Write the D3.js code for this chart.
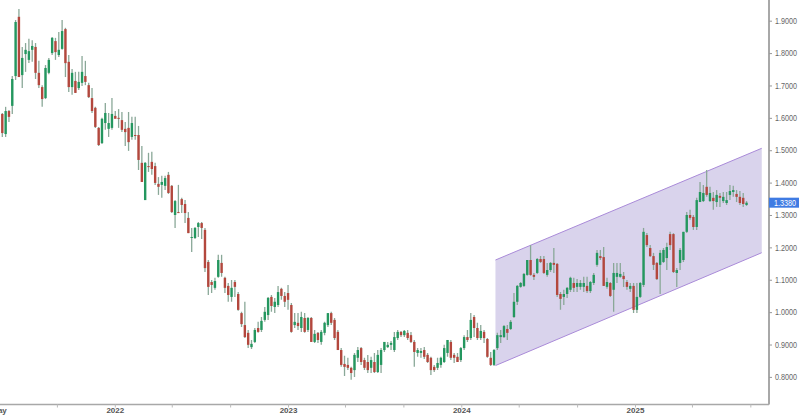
<!DOCTYPE html>
<html><head><meta charset="utf-8">
<script src="https://cdn.jsdelivr.net/npm/d3@7"></script>
<style>body{margin:0;background:#fff}svg{display:block;font-family:"Liberation Sans",Arial,sans-serif}</style>
</head><body>
<svg id="c" width="800" height="416"></svg>
<script>
// weekly candles, first week
const startDate = "2021-05-09";
const open = [
1.612,1.550,1.621,1.637,1.729,1.912,1.732,1.797,1.779,1.810,
1.819,1.739,1.695,1.661,1.739,1.800,1.837,1.794,1.813,1.874,
1.773,1.695,1.714,1.692,1.708,1.729,1.701,1.661,1.631,1.569,
1.522,1.584,1.566,1.569,1.606,1.600,1.593,1.566,1.569,1.541,
1.547,1.547,1.461,1.346,1.451,1.464,1.451,1.396,1.393,1.390,
1.424,1.390,1.300,1.309,1.349,1.334,1.291,1.229,1.229,1.263,
1.275,1.254,1.155,1.093,1.075,1.109,1.152,1.106,1.081,1.047,
1.093,1.056,0.997,0.960,0.936,0.892,0.908,0.951,0.945,0.976,
0.991,1.047,1.016,1.022,1.072,1.050,1.059,1.022,0.960,0.967,
0.951,0.982,0.945,0.982,0.908,0.936,0.908,0.936,0.960,0.997,
0.976,0.939,0.883,0.840,0.837,0.828,0.821,0.859,0.889,0.852,
0.846,0.828,0.846,0.815,0.837,0.883,0.892,0.899,0.883,0.920,
0.939,0.929,0.936,0.929,0.908,0.874,0.874,0.883,0.868,0.859,
0.831,0.828,0.837,0.846,0.874,0.908,0.868,0.862,0.852,0.889,
0.923,0.920,0.985,0.951,0.920,0.939,0.917,0.859,0.837,0.889,
0.923,0.923,0.948,0.948,0.985,1.032,1.078,1.081,1.115,1.161,
1.115,1.121,1.164,1.164,1.115,1.130,1.152,1.149,1.056,1.047,
1.056,1.069,1.090,1.078,1.078,1.078,1.081,1.065,1.090,1.146,
1.173,1.170,1.078,1.090,1.069,1.109,1.109,1.112,1.093,1.072,
1.081,1.007,1.047,1.084,1.238,1.198,1.173,1.152,1.146,1.155,
1.167,1.241,1.241,1.121,1.152,1.161,1.248,1.300,1.294,1.263,
1.340,1.343,1.387,1.343,1.353,1.340,1.359,1.343,1.337,1.362,
1.371,1.365,1.356,1.353,1.331];
const high = [
1.615,1.634,1.624,1.729,1.902,1.936,1.819,1.831,1.844,1.840,
1.831,1.776,1.701,1.763,1.785,1.850,1.847,1.865,1.902,1.878,
1.794,1.751,1.742,1.742,1.791,1.776,1.708,1.692,1.634,1.572,
1.600,1.646,1.615,1.661,1.621,1.627,1.618,1.587,1.618,1.603,
1.603,1.575,1.513,1.464,1.492,1.495,1.461,1.417,1.421,1.421,
1.433,1.393,1.346,1.393,1.353,1.346,1.309,1.260,1.263,1.278,
1.278,1.260,1.161,1.099,1.106,1.177,1.177,1.109,1.090,1.099,
1.099,1.062,1.001,1.032,0.945,0.914,0.951,0.970,0.985,1.016,
1.047,1.053,1.044,1.081,1.075,1.062,1.084,1.028,0.997,0.997,
1.001,0.997,0.985,0.985,0.945,0.939,0.945,0.970,0.997,1.001,
0.982,0.945,0.889,0.865,0.859,0.831,0.874,0.892,0.892,0.859,
0.868,0.862,0.874,0.883,0.889,0.908,0.908,0.911,0.939,0.945,
0.942,0.945,0.945,0.939,0.914,0.889,0.889,0.892,0.874,0.862,
0.837,0.859,0.862,0.899,0.914,0.914,0.874,0.874,0.892,0.929,
0.945,0.997,0.991,0.967,0.960,0.945,0.920,0.877,0.886,0.936,
0.945,0.960,0.960,0.976,1.059,1.084,1.093,1.121,1.161,1.207,
1.121,1.167,1.173,1.173,1.152,1.155,1.198,1.152,1.062,1.069,
1.078,1.109,1.106,1.102,1.099,1.109,1.109,1.096,1.121,1.192,
1.192,1.201,1.106,1.093,1.152,1.152,1.152,1.124,1.099,1.090,
1.090,1.090,1.093,1.260,1.244,1.207,1.183,1.155,1.192,1.198,
1.214,1.248,1.244,1.136,1.198,1.248,1.309,1.316,1.300,1.353,
1.402,1.393,1.439,1.387,1.371,1.377,1.368,1.371,1.371,1.393,
1.390,1.377,1.374,1.368,1.343];
const low = [
1.541,1.541,1.587,1.612,1.717,1.726,1.692,1.742,1.769,1.773,
1.720,1.692,1.634,1.658,1.735,1.794,1.779,1.788,1.810,1.726,
1.680,1.671,1.677,1.686,1.698,1.701,1.661,1.615,1.569,1.513,
1.519,1.563,1.541,1.563,1.600,1.569,1.556,1.513,1.498,1.532,
1.532,1.439,1.402,1.346,1.433,1.424,1.393,1.362,1.353,1.377,
1.365,1.306,1.260,1.306,1.306,1.275,1.244,1.186,1.226,1.232,
1.226,1.124,1.053,1.059,1.069,1.106,1.109,1.059,1.032,1.032,
1.047,1.004,0.954,0.920,0.889,0.886,0.905,0.936,0.939,0.970,
0.976,1.001,0.997,1.016,1.038,1.016,1.007,0.936,0.951,0.945,
0.939,0.936,0.939,0.908,0.905,0.905,0.899,0.929,0.954,0.960,
0.914,0.883,0.831,0.803,0.821,0.791,0.800,0.846,0.837,0.821,
0.812,0.812,0.812,0.812,0.812,0.877,0.889,0.883,0.877,0.914,
0.923,0.923,0.914,0.905,0.831,0.862,0.859,0.855,0.843,0.806,
0.815,0.821,0.828,0.843,0.862,0.852,0.843,0.846,0.846,0.883,
0.908,0.914,0.923,0.914,0.914,0.905,0.859,0.834,0.834,0.883,
0.905,0.920,0.914,0.945,0.982,1.022,1.075,1.078,1.112,1.112,
1.099,1.118,1.152,1.118,1.109,1.124,1.121,1.047,1.007,1.022,
1.044,1.062,1.062,1.062,1.069,1.062,1.059,1.059,1.084,1.140,
1.161,1.081,1.072,1.047,1.001,1.090,1.106,1.078,1.069,1.062,
0.997,0.997,1.044,1.078,1.201,1.170,1.130,1.099,1.056,1.152,
1.130,1.192,1.121,1.078,1.130,1.155,1.244,1.285,1.254,1.254,
1.340,1.340,1.356,1.340,1.316,1.325,1.325,1.337,1.331,1.346,
1.356,1.340,1.331,1.325,1.328];
const close = [
1.553,1.621,1.603,1.720,1.896,1.726,1.785,1.810,1.806,1.822,
1.739,1.701,1.658,1.754,1.779,1.847,1.803,1.810,1.868,1.769,
1.695,1.739,1.677,1.711,1.742,1.711,1.664,1.621,1.572,1.516,
1.597,1.615,1.584,1.612,1.597,1.597,1.563,1.556,1.525,1.584,
1.544,1.470,1.402,1.461,1.448,1.442,1.399,1.387,1.402,1.414,
1.368,1.309,1.343,1.308,1.331,1.306,1.244,1.232,1.260,1.275,
1.260,1.136,1.078,1.084,1.096,1.161,1.121,1.075,1.053,1.075,
1.078,1.007,0.963,0.923,0.899,0.902,0.945,0.939,0.973,1.001,
1.044,1.019,1.032,1.062,1.050,1.032,1.038,0.939,0.970,0.957,
0.985,0.939,0.982,0.908,0.933,0.914,0.939,0.967,0.997,0.967,
0.920,0.883,0.837,0.831,0.828,0.812,0.868,0.883,0.846,0.828,
0.821,0.852,0.815,0.868,0.883,0.908,0.899,0.905,0.923,0.939,
0.929,0.942,0.920,0.908,0.877,0.883,0.880,0.862,0.846,0.821,
0.821,0.843,0.859,0.889,0.914,0.859,0.859,0.846,0.889,0.923,
0.914,0.976,0.951,0.920,0.942,0.920,0.862,0.837,0.883,0.929,
0.929,0.957,0.936,0.970,1.032,1.081,1.090,1.118,1.161,1.115,
1.109,1.164,1.155,1.121,1.130,1.152,1.146,1.053,1.041,1.056,
1.075,1.106,1.075,1.090,1.090,1.090,1.065,1.093,1.115,1.183,
1.167,1.081,1.093,1.050,1.121,1.121,1.118,1.102,1.078,1.081,
1.007,1.047,1.090,1.248,1.207,1.173,1.146,1.102,1.183,1.192,
1.201,1.207,1.124,1.130,1.192,1.248,1.300,1.291,1.263,1.346,
1.371,1.368,1.362,1.368,1.343,1.362,1.353,1.356,1.346,1.374,
1.377,1.356,1.337,1.334,1.338];

const yTicks = [0.8,0.9,1.0,1.1,1.2,1.3,1.4,1.5,1.6,1.7,1.8,1.9];
const xTicks = ["2021-05-01","2021-09-01","2022-01-01","2022-05-01","2022-09-01","2023-01-01","2023-05-01","2023-09-01","2024-01-01","2024-05-01","2024-09-01","2025-01-01","2025-05-01","2025-09-01"];
const xTickLabels = ["May","","2022","","","2023","","","2024","","","2025","",""];
const channelDates = ["2024-03-13","2025-09-25"];
const channelUpper = [1.161,1.506];
const channelLower = [0.835,1.1835];
const lastPrice = 1.338;

const plotR = 769, plotB = 404.5;
const svg = d3.select("#c");
const x = d3.scaleUtc().domain([new Date("2022-01-01"), new Date("2025-01-01")]).range([114.8, 635]);
const y = d3.scaleLinear().domain([0.8, 1.9]).range([376.9, 20.7]);

const day = 864e5;
const t0 = new Date(startDate).getTime();
const candles = close.map((c, i) => ({d: new Date(t0 + i * 7 * day), o: open[i], h: high[i], l: low[i], c}));

svg.append("defs").append("clipPath").attr("id","clip").append("rect").attr("x",0).attr("y",0).attr("width",plotR).attr("height",plotB);
const g = svg.append("g").attr("clip-path","url(#clip)");

// channel
const cd = channelDates.map(s => new Date(s));
g.append("polygon")
  .attr("points", [[x(cd[0]), y(channelUpper[0])],[x(cd[1]), y(channelUpper[1])],[x(cd[1]), y(channelLower[1])],[x(cd[0]), y(channelLower[0])]].map(p=>p.join(",")).join(" "))
  .attr("fill","#d9d3ec");
g.append("line").attr("x1",x(cd[0])).attr("y1",y(channelUpper[0])).attr("x2",x(cd[1])).attr("y2",y(channelUpper[1])).attr("stroke","#a98ad8").attr("stroke-width",1);
g.append("line").attr("x1",x(cd[0])).attr("y1",y(channelLower[0])).attr("x2",x(cd[1])).attr("y2",y(channelLower[1])).attr("stroke","#a98ad8").attr("stroke-width",1);

// wicks
g.selectAll("line.wick").data(candles).enter().append("line").attr("class","wick")
  .attr("x1", d => x(d.d)).attr("x2", d => x(d.d))
  .attr("y1", d => y(d.h)).attr("y2", d => y(d.l))
  .attr("stroke","#8aa898").attr("stroke-width",1.3);
// bodies
g.selectAll("rect.body").data(candles).enter().append("rect").attr("class","body")
  .attr("x", d => x(d.d) - 1.2).attr("width", 2.4)
  .attr("y", d => y(Math.max(d.o, d.c)))
  .attr("height", d => Math.max(1, Math.abs(y(d.o) - y(d.c))))
  .attr("fill", d => d.c >= d.o ? "#24975f" : "#b3473d");

// right axis
svg.append("line").attr("x1",plotR).attr("x2",plotR).attr("y1",0).attr("y2",plotB).attr("stroke","#a8a8a8").attr("stroke-width",2);
const ya = svg.append("g").attr("transform",`translate(${plotR},0)`)
  .call(d3.axisRight(y).tickValues(yTicks).tickFormat(d3.format(".4f")).tickSize(3).tickPadding(3));
ya.select(".domain").remove();
ya.selectAll(".tick line").attr("stroke","#999");
ya.selectAll(".tick text").attr("fill","#666").style("font-size","8.5px")
  .attr("textLength",22).attr("lengthAdjust","spacingAndGlyphs");

// last price label
const ly = y(lastPrice);
svg.append("rect").attr("x",plotR).attr("y",ly-5).attr("width",30).attr("height",10).attr("fill","#3f7be3");
svg.append("text").attr("x",plotR+5).attr("y",ly+3.2).text(d3.format(".4f")(lastPrice))
  .attr("fill","#fff").style("font-size","8.5px").attr("textLength",22).attr("lengthAdjust","spacingAndGlyphs");

// bottom axis
svg.append("line").attr("x1",0).attr("x2",plotR).attr("y1",plotB).attr("y2",plotB).attr("stroke","#a8a8a8").attr("stroke-width",1.5);
const xa = svg.append("g").attr("transform",`translate(0,${plotB})`)
  .call(d3.axisBottom(x).tickValues(xTicks.map(s=>new Date(s))).tickFormat((d,i)=>xTickLabels[i]).tickSize(3).tickPadding(0));
xa.select(".domain").remove();
xa.selectAll(".tick line").attr("stroke","#bbb");
xa.selectAll(".tick text").attr("fill","#555").style("font-size","8px").style("font-weight","bold");
</script>
</body></html>
